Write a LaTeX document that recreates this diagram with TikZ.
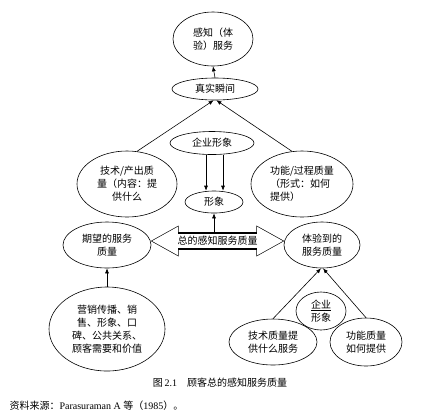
\documentclass[tikz,border=0pt]{standalone}
\usepackage{fontspec}
\setmainfont{Liberation Serif}
\newfontfamily\cjk{Noto Sans CJK SC}
\usetikzlibrary{arrows.meta, shapes.geometric, calc}

\begin{document}
\begin{tikzpicture}[x=1pt, y=-1pt, >={Latex[length=5pt,width=4pt]},
	bubble/.style={draw, ellipse, inner sep=0pt, align=center, line width=0.6pt,
		font={\cjk\fontsize{10}{13}\selectfont}},
	link/.style={->, line width=0.6pt}]
	\useasboundingbox (0,0) rectangle (422,416);
	
	% upper half
	\node[bubble, minimum width=80pt, minimum height=54pt] (Perc) at (213,39) {感知（体\\验）服务};
	\node[bubble, minimum width=86pt, minimum height=22pt] (Moment) at (215,89) {真实瞬间};
	\node[bubble, minimum width=100pt, minimum height=66pt] (Tech) at (127,184) {技术/产出质\\量（内容：提\\供什么};
	\node[bubble, minimum width=102pt, minimum height=66pt, align=left] (Func) at (302,184) {功能/过程质量\\（形式：如何\\提供）};
	\node[bubble, minimum width=84pt, minimum height=23pt] (Corp) at (212,143) {企业形象};
	\node[bubble, minimum width=58pt, minimum height=22pt] (Image) at (214,202) {形象};
	
	% middle row
	\node[bubble, minimum width=88pt, minimum height=46pt] (Expect) at (107,245) {期望的服务\\质量};
	\node[bubble, minimum width=76pt, minimum height=46pt] (Exper) at (322,245) {体验到的\\服务质量};
	
	% lower half
	\node[bubble, minimum width=116pt, minimum height=84pt] (Market) at (107,329) {营销传播、销\\售、形象、口\\碑、公共关系、\\顾客需要和价值};
	\node[bubble, minimum width=50pt, minimum height=38pt] (Corp2) at (321,311) {\underline{企业}\\形象};
	\node[bubble, minimum width=88pt, minimum height=46pt] (TechQ) at (273,342) {技术质量提\\供什么服务};
	\node[bubble, minimum width=72pt, minimum height=48pt] (FuncQ) at (366,342) {功能质量\\如何提供};
	
	% double arrow
	\coordinate (LTip) at ([yshift=4pt]Expect.east);
	\coordinate (RTip) at ([yshift=4pt]Exper.west);
	\path (LTip) ++(27,-8) coordinate (ShaftTL) ++(0,16) coordinate (ShaftBL);
	\path (RTip) ++(-27,-8) coordinate (ShaftTR) ++(0,16) coordinate (ShaftBR);
	\draw[line width=0.5pt, line join=miter] (ShaftTL) -- ++(0,-7) -- (LTip) -- ++(27,15) -- (ShaftBL);
	\draw[line width=0.5pt, line join=miter] (ShaftTR) -- ++(0,-7) -- (RTip) -- ++(-27,15) -- (ShaftBR);
	\draw[line width=1.8pt] (ShaftTL) -- (ShaftTR) (ShaftBL) -- (ShaftBR);
	\node[font={\cjk\fontsize{10}{12}\selectfont}] (Total) at ($(LTip)!0.5!(RTip)$) {总的感知服务质量};
	
	% connectors
	\draw[link] (Moment.north) -- (Perc.south);
	\draw[link] (Tech.73) -- (Moment.-97);
	\draw[link] (Func.107) -- (Moment.-83);
	\draw[link] ([xshift=-8pt]Image.north |- Corp.south) -- ([xshift=-8pt]Image.north);
	\draw[link] ([xshift=9pt]Image.north |- Corp.south) -- ([xshift=9pt]Image.north);
	\draw[link] (Image.south |- ShaftTL) -- (Image.south);
	\draw[link] (Market.north) -- (Expect.south);
	\draw[link] (TechQ.north) -- ([xshift=-1pt]Exper.south);
	\draw[link] (FuncQ.north) -- ([xshift=1pt]Exper.south);
	
	% caption
	\node[font=\fontsize{10}{12}\selectfont] (Caption) at (220,383) {{\cjk 图}\,2.1\quad{\cjk 顾客总的感知服务质量}};
	\node[font=\fontsize{10}{12}\selectfont, anchor=west] (Source) at (6,406) {{\cjk 资料来源：}Parasuraman A {\cjk 等（}1985{\cjk ）。}};
\end{tikzpicture}
\end{document}
